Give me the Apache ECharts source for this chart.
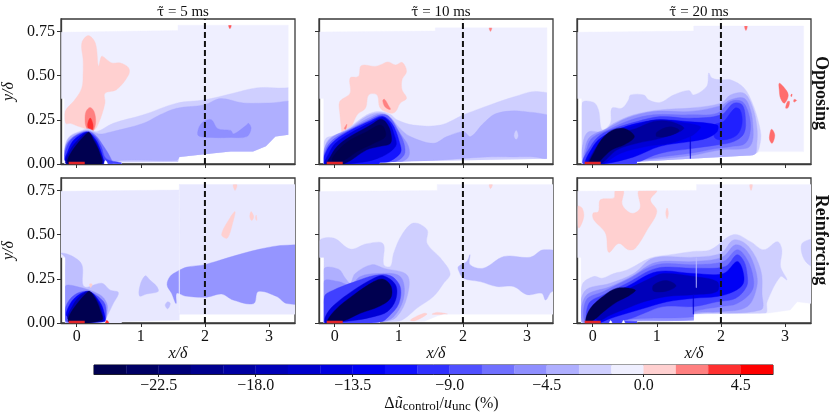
<!DOCTYPE html>
<html><head><meta charset="utf-8">
<script src="https://cdn.jsdelivr.net/npm/echarts@6/dist/echarts.min.js"></script>
<style>html,body{margin:0;padding:0;background:#fff}#c{width:829px;height:414px}</style>
</head><body><div id="c"></div>
<script>
const xTicks=[0,1,2,3];
const yTicks=[0,0.25,0.5,0.75];
const barTicks=[-22.5,-18,-13.5,-9,-4.5,0,4.5];
const barLevels=[-25.5,-24,-22.5,-21,-19.5,-18,-16.5,-15,-13.5,-12,-10.5,-9,-7.5,-6,-4.5,-3,-1.5,0,1.5,3,4.5,6];
const columnTitles=['5','10','20'];
const rowTitles=['Opposing','Reinforcing'];
const actuator=[[-0.125,0.006],[0.125,0.006]];
const stationLine=[[2,0],[2,0.82]];
const cmapValues=[-24.75,-12,0,0.75,2.25,3.75,5.25];
const cmapColors=[[0,0,80],[0,0,255],[255,255,255],[255,208,208],[255,128,128],[255,48,48],[255,0,0]];

const opp5=[
[-0.75,[[-0.24,0.37],[-0.24,0.745],[1.58,0.755],[1.58,0.785],[3.3,0.785],[3.3,0.165],[3.1,0.155],[2.95,0.1],[2.75,0.07],[2.4,0.07],[2.1,0.06],[1.6,0.04],[1.58,0.012],[0.7,0.01],[0.7,0],[-0.19,0],[-0.19,0.37]]],
[0.75,[[-0.17,0.23],[-0.18,0.297],[-0.03,0.363],[0.08,0.43],[0.1,0.514],[0.1,0.59],[0.08,0.684],[0.18,0.726],[0.29,0.684],[0.34,0.552],[0.39,0.609],[0.47,0.59],[0.55,0.571],[0.68,0.571],[0.81,0.543],[0.81,0.505],[0.62,0.42],[0.44,0.4],[0.44,0.344],[0.34,0.23],[0.26,0.19],[0.05,0.21],[-0.1,0.23]]],
[2.25,[[0.13,0.25],[0.146,0.297],[0.208,0.32],[0.27,0.297],[0.296,0.24],[0.26,0.19],[0.2,0.183],[0.146,0.21]]],
[3.75,[[0.17,0.22],[0.21,0.26],[0.25,0.23],[0.25,0.197],[0.2,0.19]]],
[3,[[2.37,0.785],[2.41,0.785],[2.39,0.765]]],
[-2.25,[[-0.2,0.03],[-0.17,0.12],[-0.1,0.16],[0.05,0.185],[0.18,0.2],[0.31,0.183],[0.57,0.23],[1.04,0.278],[1.56,0.344],[2,0.363],[2.44,0.4],[2.8,0.43],[3.12,0.43],[3.5,0.41],[3.5,0.1],[3.1,0.14],[2.95,0.09],[2.75,0.06],[2.4,0.05],[2.1,0.04],[1.6,0.02],[1.58,0],[0.7,0],[0.3,0]]],
[-3.75,[[-0.19,0.03],[-0.17,0.11],[-0.1,0.155],[0.05,0.18],[0.18,0.19],[0.35,0.17],[0.52,0.18],[1.04,0.23],[1.3,0.278],[1.56,0.315],[2,0.335],[2.24,0.37],[2.6,0.345],[3,0.345],[3.5,0.34],[3.5,0.1],[3.1,0.14],[2.95,0.09],[2.75,0.06],[2.5,0.06],[2.3,0.05],[2.1,0.045],[1.6,0.035],[1.56,0.02],[0.7,0.02],[0.4,0]]],
[-5.25,[[1.9,0.16],[1.9,0.2],[1.98,0.24],[2.1,0.25],[2.2,0.2],[2.4,0.19],[2.45,0.17],[2.65,0.22],[2.68,0.23],[2.72,0.2],[2.65,0.155],[2.4,0.15],[2.1,0.15]]],
[-6.75,[[-0.19,0.02],[-0.17,0.1],[-0.1,0.14],[0.05,0.175],[0.18,0.185],[0.3,0.16],[0.42,0.1],[0.52,0.04],[0.55,0]]],
[-9,[[-0.18,0.02],[-0.16,0.09],[-0.08,0.14],[0.05,0.17],[0.18,0.18],[0.3,0.15],[0.38,0.1],[0.46,0.03],[0.7,0.006],[0.7,0]]],
[-12.75,[[-0.17,0.02],[-0.14,0.07],[-0.06,0.13],[0.08,0.17],[0.18,0.18],[0.29,0.14],[0.36,0.09],[0.42,0.02],[0.42,0]]],
[-18,[[-0.16,0],[-0.1,0.08],[0.03,0.14],[0.17,0.178],[0.28,0.135],[0.35,0.08],[0.4,0]]],
[-24.75,[[-0.14,0.005],[0.175,0.178],[0.27,0.13],[0.36,0.06],[0.38,0]]],
[0,[[0.43,0],[0.45,0.02],[0.48,0]]]
];

const opp10=[
[-0.75,[[-0.234,0.37],[-0.234,0.747],[1.57,0.752],[1.57,0.77],[3.31,0.77],[3.31,0.03],[1.2,0.015],[0.7,0.008],[0.7,0],[-0.17,0],[-0.17,0.37]]],
[0.75,[[0.11,0.183],[0.08,0.287],[0.08,0.353],[0.24,0.4],[0.24,0.486],[0.37,0.495],[0.415,0.556],[0.63,0.552],[0.71,0.56],[0.83,0.577],[0.95,0.56],[1.05,0.575],[1.12,0.524],[1.05,0.476],[1.05,0.42],[1.12,0.372],[1.02,0.344],[0.95,0.297],[0.87,0.287],[0.71,0.316],[0.66,0.391],[0.53,0.391],[0.48,0.316],[0.35,0.278],[0.24,0.2],[0.11,0.174]]],
[2.25,[[0.75,0.36],[0.78,0.365],[0.84,0.33],[0.87,0.31],[0.84,0.31],[0.78,0.325]]],
[2.25,[[0.15,0.2],[0.17,0.215],[0.19,0.225],[0.17,0.195]]],
[2.25,[[2.41,0.77],[2.45,0.77],[2.43,0.75]]],
[-2.25,[[-0.17,0.03],[-0.146,0.14],[0.04,0.165],[0.24,0.21],[0.5,0.278],[0.68,0.297],[0.87,0.28],[0.97,0.25],[1.23,0.22],[1.65,0.22],[2.01,0.278],[2.43,0.335],[2.8,0.38],[3.16,0.41],[3.5,0.36],[3.5,0],[1.2,0],[0.9,0],[0.3,0]]],
[-3.75,[[-0.16,0.02],[-0.14,0.11],[-0.04,0.155],[0.19,0.19],[0.5,0.27],[0.71,0.29],[0.85,0.27],[1.02,0.2],[1.18,0.155],[1.54,0.117],[1.75,0.155],[2.01,0.183],[2.12,0.155],[2.32,0.23],[2.53,0.287],[2.95,0.297],[3.5,0.24],[3.5,0.03],[3.1,0.04],[2.8,0.04],[2.38,0.04],[1.54,0.02],[1.02,0.012],[0.3,0]]],
[-2.25,[[2.8,0.16],[2.83,0.19],[2.86,0.16],[2.83,0.14]]],
[-5.25,[[1.15,0.04],[1.15,0.1],[1.02,0.174],[0.87,0.26],[0.71,0.283],[0.53,0.26],[0.24,0.2],[-0.02,0.155],[-0.146,0.1],[-0.17,0],[1.0,0.01]]],
[-7.5,[[1.08,0.05],[1.08,0.117],[0.97,0.2],[0.84,0.27],[0.72,0.278],[0.54,0.25],[0.24,0.195],[0,0.145],[-0.13,0.09],[-0.165,0],[0.9,0.01]]],
[-11,[[1.02,0.06],[1,0.136],[0.89,0.23],[0.74,0.27],[0.56,0.245],[0.24,0.19],[0.01,0.136],[-0.12,0.08],[-0.16,0],[0.71,0]]],
[-15,[[0.95,0.1],[0.92,0.174],[0.84,0.24],[0.74,0.265],[0.56,0.234],[0.24,0.174],[0.01,0.117],[-0.09,0.06],[-0.15,0],[0.19,0],[0.66,0.03]]],
[-23,[[0.87,0.117],[0.87,0.183],[0.79,0.24],[0.71,0.253],[0.56,0.22],[0.24,0.155],[0.04,0.1],[-0.07,0.04],[-0.12,0],[0.14,0],[0.5,0.08],[0.71,0.1]]],
[-24.75,[[0.79,0.155],[0.76,0.21],[0.69,0.22],[0.5,0.183],[0.24,0.136],[0.06,0.08],[-0.04,0.02],[0.14,0.02],[0.35,0.07],[0.61,0.117]]]
];

const opp20=[
[-0.75,[[-0.234,0.37],[-0.234,0.745],[1.576,0.752],[1.576,0.78],[3.29,0.78],[3.29,0.07],[2.6,0.07],[2.5,0.05],[1.52,0.03],[0.69,0.013],[0.69,0],[-0.17,0],[-0.17,0.37]]],
[-2.25,[[-0.166,0.344],[0.015,0.348],[0.09,0.306],[0.146,0.193],[0.276,0.23],[0.3,0.316],[0.46,0.316],[0.56,0.363],[0.59,0.39],[0.8,0.39],[0.87,0.363],[1.05,0.348],[1.26,0.39],[1.5,0.416],[1.576,0.39],[1.78,0.44],[1.81,0.514],[1.86,0.486],[2,0.476],[2.15,0.476],[2.36,0.43],[2.49,0.344],[2.59,0.23],[2.62,0.136],[2.51,0.05],[1.52,0.026],[0.69,0.01],[-0.17,0]]],
[-3.75,[[-0.14,0.02],[-0.14,0.136],[-0.06,0.183],[0.146,0.183],[0.33,0.23],[0.64,0.278],[1.05,0.306],[1.52,0.316],[2,0.344],[2.15,0.39],[2.36,0.4],[2.49,0.325],[2.56,0.21],[2.56,0.117],[2.51,0.05],[1.52,0.028],[0.69,0.012]]],
[-5.25,[[-0.13,0],[-0.114,0.098],[-0.036,0.155],[0.22,0.2],[0.54,0.26],[0.95,0.297],[1.52,0.297],[2,0.33],[2.15,0.363],[2.36,0.372],[2.46,0.306],[2.5,0.21],[2.49,0.127],[2.41,0.09],[2,0.08],[1.576,0.05],[1.05,0.03],[0.2,0.003]]],
[-6.75,[[-0.12,0],[-0.08,0.1],[0,0.15],[0.25,0.195],[0.6,0.25],[0.95,0.278],[1.52,0.278],[1.94,0.287],[2.15,0.353],[2.33,0.353],[2.43,0.287],[2.46,0.193],[2.38,0.117],[2.15,0.098],[1.94,0.089],[1.576,0.064],[1.05,0.04],[0.69,0.02],[0.2,0.003]]],
[-9,[[2,0.278],[2.2,0.344],[2.33,0.335],[2.38,0.268],[2.36,0.174],[2.2,0.127],[1.94,0.108],[1.576,0.089],[1.05,0.06],[0.71,0.008],[0.71,0],[-0.14,0],[-0.036,0.098],[0.12,0.164],[0.33,0.2],[0.69,0.24],[1.05,0.268],[1.52,0.259]]],
[-10.5,[[2.04,0.24],[2.22,0.316],[2.3,0.306],[2.33,0.23],[2.25,0.164],[2.04,0.136],[1.9,0.15],[1.9,0.22]]],
[-12.75,[[1.94,0.22],[1.47,0.24],[1.05,0.25],[0.69,0.23],[0.38,0.193],[0.12,0.146],[-0.01,0.09],[-0.11,0],[0.17,0],[0.64,0.04],[1.05,0.1],[1.52,0.127],[1.78,0.146],[1.94,0.183]]],
[-15,[[1.68,0.21],[1.47,0.23],[1,0.25],[0.64,0.215],[0.38,0.183],[0.12,0.127],[-0.01,0.06],[-0.09,0],[0.146,0],[0.43,0.06],[0.85,0.1],[1.21,0.117],[1.52,0.155],[1.62,0.18]]],
[-19,[[1.42,0.2],[1.21,0.24],[0.95,0.24],[0.67,0.2],[0.38,0.174],[0.12,0.117],[0,0.06],[-0.06,0],[0.12,0],[0.38,0.08],[0.69,0.117],[1.05,0.145]]],
[-21.5,[[1,0.18],[1.2,0.21],[1.35,0.19],[1.2,0.16],[1,0.155]]],
[-24.75,[[-0.05,0],[0.03,0.07],[0.14,0.14],[0.3,0.19],[0.5,0.2],[0.65,0.155],[0.5,0.11],[0.3,0.08],[0.12,0.02],[0.08,0]]],
[-15,[[1.518,0.03],[1.526,0.03],[1.526,0.155],[1.518,0.155]]],
[2.6,[[2.91,0.457],[2.98,0.435],[3.05,0.39],[2.99,0.344],[2.93,0.372],[2.91,0.42]]],
[2.6,[[3.01,0.316],[3.04,0.353],[3.07,0.353],[3.05,0.32]]],
[2.6,[[3.14,0.365],[3.18,0.36],[3.14,0.35]]],
[2.6,[[3.09,0.39],[3.11,0.395],[3.1,0.38]]],
[2.6,[[2.76,0.164],[2.79,0.197],[2.84,0.164],[2.8,0.117],[2.76,0.136]]],
[2.6,[[2.37,0.78],[2.41,0.78],[2.39,0.755]]]
];

const rei5=[
[-1.1,[[-0.245,0.37],[-0.245,0.745],[1.6,0.752],[1.6,0.783],[3.41,0.783],[3.41,0.05],[1.6,0.05],[1.6,0.015],[0.7,0.008],[0.7,0],[-0.18,0],[-0.18,0.37]]],
[-3,[[-0.18,0.37],[-0.245,0.395],[-0.08,0.38],[0.08,0.33],[0.114,0.206],[0.39,0.225],[0.52,0.187],[0.65,0.172],[0.57,0.11],[0.47,0.036],[0.42,0.005],[-0.18,0]]],
[-5,[[-0.18,0.206],[0,0.206],[0.36,0.16],[0.47,0.11],[0.47,0.055],[0.42,0.01],[-0.18,0.008]]],
[-8.25,[[-0.17,0.093],[-0.03,0.16],[0.18,0.178],[0.42,0.12],[0.46,0.055],[0.42,0.017],[-0.156,0.008]]],
[-12.75,[[-0.146,0.036],[-0.1,0.11],[0.05,0.164],[0.2,0.178],[0.36,0.12],[0.43,0.055],[0.43,0.008]]],
[-18,[[-0.13,0.02],[-0.06,0.1],[0.06,0.155],[0.19,0.178],[0.32,0.13],[0.4,0.055],[0.4,0.008]]],
[-24.75,[[-0.13,0.008],[0.18,0.178],[0.286,0.14],[0.364,0.074],[0.39,0.017]]],
[-5,[[1.56,0.29],[1.72,0.316],[2,0.33],[2.34,0.367],[2.86,0.418],[3.28,0.44],[3.6,0.42],[3.6,0.127],[3.28,0.11],[3.12,0.15],[2.83,0.178],[2.76,0.11],[2.44,0.13],[2.26,0.164],[2.03,0.146],[1.69,0.153],[1.56,0.168],[1.55,0.11],[1.48,0.168],[1.41,0.215],[1.456,0.263]]],
[-3,[[1.07,0.267],[1.14,0.244],[1.25,0.206],[1.27,0.178],[1.09,0.164],[0.98,0.153],[0.99,0.215]]],
[-3,[[1.38,0.1],[1.42,0.12],[1.46,0.11],[1.42,0.08]]],
[-0.75,[[1.597,0.05],[1.603,0.05],[1.603,0.78],[1.597,0.78]]],
[0.75,[[2.26,0.5],[2.39,0.594],[2.47,0.63],[2.44,0.575],[2.35,0.48]]],
[0.75,[[2.7,0.6],[2.72,0.63],[2.76,0.6],[2.73,0.58]]],
[0.75,[[2.79,0.59],[2.8,0.61],[2.81,0.58]]],
[0.75,[[2.44,0.783],[2.5,0.783],[2.47,0.75]]],
[0.75,[[0.2,0.22],[0.24,0.22],[0.22,0.2]]],
[3.75,[[0.45,0],[0.47,0.015],[0.5,0]]]
];

const rei10=[
[-0.75,[[-0.234,0.37],[-0.234,0.743],[1.6,0.75],[1.6,0.783],[3.41,0.783],[3.41,0.05],[1.7,0.05],[1.6,0.04],[1.4,0.01],[0.7,0.006],[0.7,0],[-0.17,0],[-0.17,0.37]]],
[-2.25,[[-0.234,0.467],[-0.015,0.48],[0.244,0.418],[0.5,0.448],[0.754,0.448],[0.764,0.33],[0.87,0.32],[0.92,0.395],[1.05,0.5],[1.23,0.565],[1.44,0.527],[1.44,0.45],[1.65,0.367],[1.8,0.28],[1.7,0.225],[1.54,0.15],[1.28,0.083],[1.13,0.036],[0.97,0.008],[-0.17,0],[-0.17,0.367],[-0.234,0.367]]],
[-3.3,[[1.93,0.32],[2.06,0.348],[2.11,0.386],[2.11,0.33],[2.32,0.31],[2.64,0.376],[3.05,0.372],[3.26,0.414],[3.6,0.38],[3.6,0.178],[3.39,0.178],[3.29,0.13],[3.23,0.168],[3,0.16],[2.79,0.206],[2.53,0.206],[2.27,0.234],[2.01,0.253],[1.93,0.3]]],
[-3.75,[[-0.17,0.304],[0.06,0.304],[0.166,0.253],[0.244,0.225],[0.32,0.28],[0.58,0.33],[0.76,0.31],[1.13,0.27],[1.13,0.15],[0.97,0.036],[0.76,0.008],[-0.17,0]]],
[-5.25,[[-0.17,0.234],[0.06,0.234],[0.244,0.215],[0.4,0.263],[0.66,0.28],[1.02,0.263],[1.08,0.15],[0.92,0.036],[0.7,0.006],[-0.17,0]]],
[-9,[[-0.16,0.15],[-0.04,0.183],[0.32,0.234],[0.63,0.27],[0.87,0.267],[1.02,0.206],[1,0.11],[0.84,0.036],[0.71,0.006],[-0.16,0]]],
[-15,[[-0.146,0.036],[-0.015,0.1],[0.3,0.187],[0.61,0.253],[0.76,0.267],[0.95,0.215],[0.95,0.13],[0.82,0.064],[0.61,0.036],[0.35,0.017],[0.09,0.006],[-0.14,0]]],
[-24.75,[[-0.11,0.006],[0.01,0.074],[0.3,0.16],[0.61,0.234],[0.76,0.248],[0.88,0.206],[0.87,0.14],[0.69,0.093],[0.4,0.055],[0.14,0.013]]],
[0.75,[[1.18,0.017],[1.39,0.055],[1.44,0.05],[1.25,0.012]]],
[0.75,[[1.52,0.05],[1.6,0.06],[1.76,0.05]]],
[0.75,[[2.41,0.783],[2.46,0.783],[2.43,0.76]]]
];

const rei20=[
[-0.75,[[-0.234,0.37],[-0.234,0.745],[1.62,0.75],[1.62,0.783],[3.42,0.783],[3.42,0.11],[3.19,0.12],[3.08,0.074],[2.72,0.055],[1.576,0.05],[1.576,0.013],[0.69,0.008],[0.69,0],[-0.18,0],[-0.18,0.37]]],
[0.75,[[-0.234,0.66],[-0.166,0.65],[-0.14,0.6],[-0.21,0.537],[-0.234,0.55]]],
[0.75,[[0.005,0.62],[0.09,0.63],[0.12,0.697],[0.33,0.707],[0.354,0.75],[0.48,0.75],[0.46,0.67],[0.61,0.62],[0.74,0.65],[0.72,0.75],[1,0.75],[0.9,0.697],[1,0.63],[0.85,0.527],[0.665,0.423],[0.56,0.414],[0.405,0.45],[0.25,0.4],[0.2,0.508],[0.016,0.584]]],
[0.75,[[1.14,0.62],[1.16,0.65],[1.18,0.62],[1.16,0.59]]],
[0.75,[[2.45,0.783],[2.49,0.783],[2.47,0.75]]],
[-2.25,[[3.6,0.467],[3.27,0.452],[3.32,0.348],[3.6,0.3]]],
[-2.25,[[-0.166,0.215],[0.016,0.263],[0.146,0.253],[0.33,0.28],[0.536,0.3],[0.9,0.367],[1.21,0.386],[1.576,0.405],[1.836,0.414],[2.2,0.5],[2.46,0.46],[2.67,0.414],[2.88,0.46],[2.95,0.414],[2.93,0.32],[3.03,0.244],[2.93,0.263],[2.72,0.12],[2.69,0.055],[1.576,0.05],[1.576,0.013],[0.69,0.008],[-0.18,0]]],
[-3.75,[[-0.13,0.178],[0.276,0.225],[0.64,0.28],[0.95,0.367],[1.576,0.372],[2,0.395],[2.2,0.47],[2.43,0.433],[2.62,0.3],[2.64,0.168],[2.62,0.074],[1.576,0.05],[1.576,0.015],[0.74,0.012],[-0.15,0]]],
[-5.25,[[-0.114,0.15],[0.276,0.206],[0.61,0.263],[0.98,0.342],[1.576,0.348],[2.02,0.372],[2.23,0.442],[2.41,0.405],[2.54,0.3],[2.56,0.206],[2.41,0.093],[2,0.064],[1.576,0.055],[1.576,0.02],[0.74,0.015],[-0.13,0]]],
[-6.75,[[-0.1,0.13],[0.17,0.178],[0.536,0.244],[1,0.33],[1.576,0.33],[2.04,0.348],[2.25,0.414],[2.38,0.376],[2.49,0.282],[2.49,0.187],[2.25,0.11],[2,0.093],[1.576,0.064],[1.576,0.036],[0.74,0.026],[0.17,0.008],[-0.11,0]]],
[-9,[[-0.06,0.11],[0.17,0.16],[0.536,0.225],[1,0.31],[1.576,0.31],[2.07,0.32],[2.25,0.386],[2.36,0.348],[2.41,0.272],[2.4,0.206],[2.23,0.14],[1.94,0.12],[1.576,0.093],[1.1,0.093],[0.8,0.055],[0.536,0.02],[-0.06,0]]],
[-9,[[0.1,0],[0.69,0],[0.69,0.008],[0.1,0.012]]],
[-12.75,[[-0.036,0.074],[0.17,0.14],[0.536,0.206],[1,0.29],[1.576,0.28],[2.04,0.28],[2.25,0.348],[2.33,0.31],[2.35,0.225],[2.2,0.178],[1.94,0.15],[1.576,0.14],[1.16,0.12],[0.8,0.083],[0.536,0.055],[0.276,0.026],[0.09,0],[-0.06,0]]],
[-17,[[0.015,0.064],[0.17,0.12],[0.48,0.178],[0.9,0.253],[1.1,0.28],[1.576,0.263],[1.94,0.234],[1.94,0.178],[1.576,0.16],[1.16,0.15],[0.8,0.12],[0.536,0.083],[0.276,0.045],[0.09,0.013]]],
[-20.5,[[0.95,0.215],[1.15,0.24],[1.3,0.21],[1.15,0.18],[0.95,0.18]]],
[-24.75,[[-0.11,0.006],[-0.036,0.083],[0.17,0.153],[0.38,0.197],[0.665,0.187],[0.56,0.153],[0.38,0.12],[0.17,0.064],[0,0.013]]],
[-15,[[1.565,0.05],[1.573,0.05],[1.573,0.16],[1.565,0.16]]],
[-3,[[1.612,0.2],[1.618,0.2],[1.618,0.37],[1.612,0.37]]],
[0,[[0.26,0],[0.28,0.014],[0.3,0]]],
[0,[[0.46,0],[0.48,0.014],[0.5,0]]]
];

const panels=[opp5,opp10,opp20,rei5,rei10,rei20];
const colLeft=[61,319,577],rowTop=[19,178],rowLabelOffset=[74,62];
const serif='"Liberation Serif","DejaVu Serif",serif';

function colorOf(v){
  let i=0;
  if(v<=cmapValues[0])return 'rgb('+cmapColors[0].join(',')+')';
  while(i<cmapValues.length-2&&v>cmapValues[i+1])i++;
  const t=Math.min(1,(v-cmapValues[i])/(cmapValues[i+1]-cmapValues[i]));
  const a=cmapColors[i],b=cmapColors[i+1];
  return 'rgb('+a.map((c,k)=>Math.round(c+(b[k]-c)*t)).join(',')+')';
}
const grids=[],xAxes=[],yAxes=[],series=[],titles=[],graphics=[];
panels.forEach((bands,idx)=>{
  const col=idx%3,row=idx<3?0:1;
  grids.push({left:colLeft[col],top:rowTop[row],width:234,height:145,show:true,borderColor:'#3a3a3a',borderWidth:1.3,backgroundColor:'#fff'});
  xAxes.push({type:'value',gridIndex:idx,min:-0.245,max:3.405,
    name:row===1?'x/δ':'',nameLocation:'middle',nameGap:21,
    nameTextStyle:{fontFamily:serif,fontStyle:'italic',fontSize:16,color:'#111'},
    axisLine:{show:true,onZero:false,lineStyle:{color:'#3a3a3a',width:1.3}},
    axisTick:{show:true,length:4,customValues:xTicks,lineStyle:{color:'#333'}},
    splitLine:{show:false},
    axisLabel:{show:row===1,customValues:xTicks,fontFamily:serif,fontSize:16,color:'#111',margin:6,formatter:v=>String(v)}});
  yAxes.push({type:'value',gridIndex:idx,min:0,max:0.82,
    name:col===0?'y/δ':'',nameLocation:'middle',nameGap:44,
    nameTextStyle:{fontFamily:serif,fontStyle:'italic',fontSize:16,color:'#111'},
    axisLine:{show:true,onZero:false,lineStyle:{color:'#3a3a3a',width:1.3}},
    axisTick:{show:true,length:4,customValues:yTicks,lineStyle:{color:'#333'}},
    splitLine:{show:false},
    axisLabel:{show:col===0,customValues:yTicks,fontFamily:serif,fontSize:16,color:'#111',margin:6,formatter:v=>v.toFixed(2)}});
  series.push({type:'custom',xAxisIndex:idx,yAxisIndex:idx,silent:true,animation:false,clip:true,
    data:bands.map((b,i)=>[b[1][0][0],b[1][0][1],i]),encode:{x:0,y:1},
    renderItem:(p,api)=>{
      const i=api.value(2),b=bands[i],c=colorOf(b[0]);
      const el={type:'polygon',shape:{points:b[1].map(q=>api.coord(q)),smooth:i===0?0:0.35},style:{fill:c,stroke:c,lineWidth:0.4}};
      if(i>0)el.clipPath={type:'polygon',shape:{points:bands[0][1].map(q=>api.coord(q))}};
      return el;
    }});
  series.push({type:'line',xAxisIndex:idx,yAxisIndex:idx,data:actuator,symbol:'none',silent:true,animation:false,z:5,
    lineStyle:{color:'#e0242a',width:2.6}});
  series.push({type:'line',xAxisIndex:idx,yAxisIndex:idx,data:stationLine,symbol:'none',silent:true,animation:false,z:6,
    lineStyle:{color:'#111',width:2,type:[6,3]}});
  if(row===0){
    titles.push({text:'{i|τ̃} = '+columnTitles[col]+' ms',left:colLeft[col]+117,top:0,textAlign:'center',
      textStyle:{fontFamily:serif,fontWeight:'normal',fontSize:15,color:'#111',rich:{i:{fontFamily:'"DejaVu Serif"',fontSize:13,color:'#111'}}}});
  }
});
rowTitles.forEach((t,r)=>{
  graphics.push({type:'text',x:821,y:rowTop[r]+rowLabelOffset[r],rotation:-Math.PI/2,
    style:{text:t,fontFamily:serif,fontWeight:'bold',fontSize:18,fill:'#111',align:'center',verticalAlign:'middle'}});
});
const barIdx=6;
grids.push({left:94,top:365,width:679,height:12,show:true,borderColor:'#222',borderWidth:1});
xAxes.push({type:'value',gridIndex:barIdx,min:-25.5,max:6,
  name:'{n|Δ}{i|ũ}{s|control}{n|/}{i|u}{s|unc}{n| (%)}',nameLocation:'middle',nameGap:21,
  nameTextStyle:{fontFamily:serif,fontSize:16,color:'#111',padding:[0,0,0,16],rich:{
    n:{fontFamily:serif,fontSize:16,color:'#111'},
    i:{fontFamily:serif,fontStyle:'italic',fontSize:16,color:'#111'},
    s:{fontFamily:serif,fontSize:13,color:'#111',padding:[5,0,0,0]}}},
  axisLine:{show:true,onZero:false,lineStyle:{color:'#222',width:1}},
  axisTick:{show:true,length:3,customValues:barTicks,lineStyle:{color:'#222'}},
  splitLine:{show:false},
  axisLabel:{customValues:barTicks,fontFamily:serif,fontSize:16,color:'#111',margin:4,
    formatter:v=>(v<0?'−':'')+Math.abs(v).toFixed(1)}});
yAxes.push({type:'value',gridIndex:barIdx,min:0,max:1,axisLine:{show:false},axisTick:{show:false},axisLabel:{show:false},splitLine:{show:false}});
series.push({type:'custom',xAxisIndex:barIdx,yAxisIndex:barIdx,silent:true,animation:false,
  data:barLevels.slice(0,-1).map((v,i)=>[v,barLevels[i+1]]),encode:{x:[0,1]},
  renderItem:(p,api)=>{
    const a=api.value(0),b=api.value(1),s=api.coord([a,1]),e=api.coord([b,0]);
    const c=colorOf((a+b)/2);
    return {type:'rect',shape:{x:s[0],y:s[1],width:e[0]-s[0],height:e[1]-s[1]},style:{fill:c,stroke:c,lineWidth:0.3}};
  }});
const chart=echarts.init(document.getElementById('c'),null,{renderer:'canvas'});
chart.setOption({animation:false,backgroundColor:'#fff',title:titles,grid:grids,xAxis:xAxes,yAxis:yAxes,series:series,graphic:graphics});
</script></body></html>
